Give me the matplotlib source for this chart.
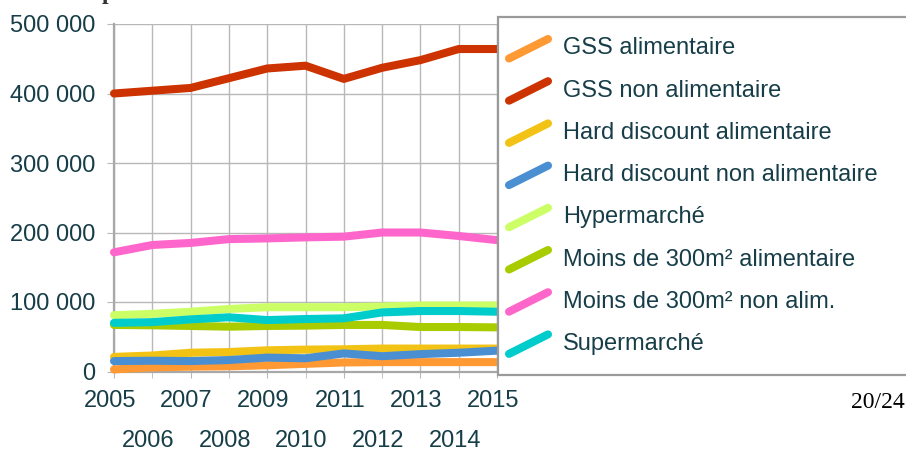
import matplotlib
matplotlib.use("Agg")
import matplotlib.pyplot as plt
import matplotlib.transforms as mtransforms
from matplotlib.ticker import FuncFormatter, MultipleLocator
from matplotlib.patches import Rectangle

# Surfaces par type de commerce, 2005-2015
years = list(range(2005, 2016))

gss_alim = [3000, 6000, 7000, 7500, 9000, 11000, 13000, 13500, 13500, 13500, 13500]
gss_non_alim = [400000, 404000, 408000, 422000, 436000, 440000, 421000, 437000, 448000, 464000, 464000]
hd_alim = [21000, 23000, 27000, 28000, 30500, 31500, 32000, 33000, 33000, 33000, 33000]
hd_non_alim = [15000, 15500, 15000, 16500, 20000, 19000, 26000, 22000, 25000, 27000, 30000]
hyper = [81000, 83000, 86000, 90000, 92500, 92500, 92500, 93500, 95000, 95000, 95000]
moins300_alim = [67000, 66500, 65500, 64500, 65500, 66000, 67000, 67000, 64000, 64000, 63500]
moins300_non_alim = [171500, 182000, 185000, 190500, 191500, 193000, 194000, 200000, 200000, 195000, 189000]
super_m = [70000, 71000, 75000, 78000, 74000, 75500, 76500, 85000, 87000, 87000, 86000]

names = [
    "GSS alimentaire",
    "GSS non alimentaire",
    "Hard discount alimentaire",
    "Hard discount non alimentaire",
    "Hypermarché",
    "Moins de 300m² alimentaire",
    "Moins de 300m² non alim.",
    "Supermarché",
]
series = [gss_alim, gss_non_alim, hd_alim, hd_non_alim,
          hyper, moins300_alim, moins300_non_alim, super_m]
colors = ["#ff9933", "#cc3300", "#f2c314", "#4a8fd1",
          "#ccff66", "#a8cc00", "#ff66cc", "#00cccc"]

text_color = "#173e48"
grid_color = "#b8b8b8"

plt.rcParams["font.family"] = ["Liberation Sans", "DejaVu Sans"]

W, H = 906, 450
fig = plt.figure(figsize=(W / 100, H / 100), dpi=100)
ax = fig.add_axes([114 / W, 1 - 371.5 / H, (497 - 114) / W, (371.5 - 24) / H])

for vals, color in zip(series, colors):
    ax.plot(years, vals, color=color, lw=5.8, solid_capstyle="round",
            solid_joinstyle="round", clip_on=False, zorder=3)

ax.set_xlim(2005, 2015)
ax.set_ylim(0, 500000)

ax.yaxis.set_major_locator(MultipleLocator(100000))
ax.yaxis.set_major_formatter(FuncFormatter(lambda v, p: f"{int(v):,}".replace(",", " ")))
ax.set_xticks(years[::2])
ax.set_xticks(years[1::2], minor=True)
ax.set_xticklabels([str(y) for y in years[::2]])
ax.set_xticklabels([str(y) for y in years[1::2]], minor=True)

ax.grid(True, which="both", color=grid_color, lw=1.0)
ax.set_axisbelow(True)
for side in ["top", "right"]:
    ax.spines[side].set_visible(False)
for side in ["left", "bottom"]:
    ax.spines[side].set_color("#a8a8a8")
    ax.spines[side].set_linewidth(1.6)

ax.tick_params(axis="y", length=5, color=grid_color, pad=8.5,
               labelsize=17, labelcolor=text_color)
ax.tick_params(axis="x", which="major", length=4, color=grid_color, pad=9.5,
               labelsize=17, labelcolor=text_color)
ax.tick_params(axis="x", which="minor", length=4, color=grid_color, pad=38,
               labelsize=17, labelcolor=text_color)

# year labels sit a little left of their ticks
shift = mtransforms.ScaledTranslation(-4 / 100, 0, fig.dpi_scale_trans)
for lab in ax.get_xticklabels(which="both"):
    lab.set_transform(lab.get_transform() + shift)

# legend panel drawn in pixel coordinates on top of everything
ov = fig.add_axes([0, 0, 1, 1], zorder=10)
ov.set_xlim(0, W)
ov.set_ylim(H, 0)
ov.axis("off")
ov.add_patch(Rectangle((498, 17), 420, 358, facecolor="white",
                       edgecolor="#9a9a9a", lw=1.6))
for i, (name, color) in enumerate(zip(names, colors)):
    yc = 48.5 + 42.2 * i
    ov.plot([509, 548], [yc + 10, yc - 9.5], color=color, lw=5.8,
            solid_capstyle="round")
    ov.text(563, yc, name, fontsize=17, color=text_color, va="center", ha="left")

ov.text(905, 403, "20/24", fontsize=17, color="black", va="center", ha="right",
        family="Liberation Serif")
ov.text(102, -1, "p", fontsize=17, color="#333333", va="baseline", ha="left",
        family="Liberation Serif", fontweight="bold")

fig.savefig("out.png", dpi=100)
